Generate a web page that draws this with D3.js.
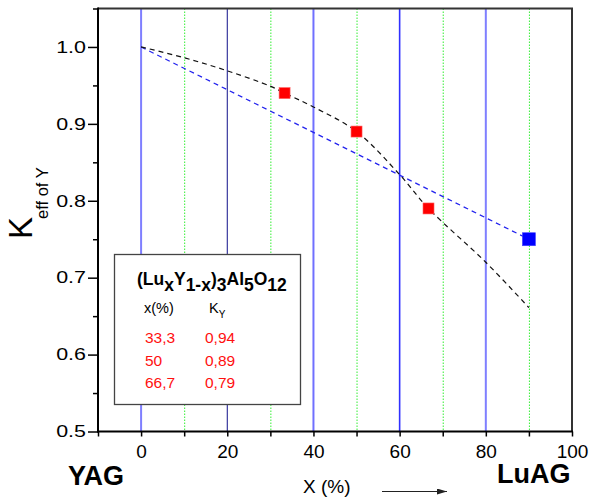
<!DOCTYPE html>
<html>
<head>
<meta charset="utf-8">
<script src="https://cdn.jsdelivr.net/npm/d3@7/dist/d3.min.js"></script>
<style>
  html, body { margin: 0; padding: 0; background: #fff; }
  svg { display: block; font-family: "Liberation Sans", Arial, sans-serif; }
</style>
</head>
<body>
<svg id="chart" width="592" height="502"></svg>
<script>
// Measured compositions (x, %) and effective segregation coefficient of Y
const sampleX = [33.3, 50, 66.7];
const sampleK = [0.94, 0.89, 0.79];
const sampleXLabel = ["33,3", "50", "66,7"];
const sampleKLabel = ["0,94", "0,89", "0,79"];

// LuAG end-member point
const luagX = [90];
const luagK = [0.75];

// Guide curve through the measured points (black dashed)
const fitX = [0, 10, 20, 30, 33.3, 40, 50, 60, 66.7, 80, 90];
const fitK = [1.0, 0.986, 0.969, 0.949, 0.94, 0.922, 0.89, 0.834, 0.79, 0.72, 0.661];

// Straight reference line (blue dashed)
const lineX = [0, 90];
const lineK = [1.0, 0.75];

// Vertical grid lines
const solidGridX = [0, 20, 40, 60, 80];
const solidGridColor = ["#7f7fff", "#10108a", "#7070ff", "#3030ff", "#7f7fff"];
const solidGridWidth = [2, 1, 2, 1.6, 2];
const dottedGridX = [10, 30, 50, 70, 90];

// Axis ticks
const xTicks = [0, 20, 40, 60, 80, 100];
const xMinorTicks = [-10, 0, 10, 20, 30, 40, 50, 60, 70, 80, 90, 100];
const yTicks = [0.5, 0.6, 0.7, 0.8, 0.9, 1.0];
const yMinorTicks = [0.55, 0.65, 0.75, 0.85, 0.95, 1.05];

const svg = d3.select("#chart");
const plot = { left: 98, right: 572, top: 8.5, bottom: 431.5 };

const x = d3.scaleLinear().domain([-10, 100]).range([plot.left, plot.right]);
const y = d3.scaleLinear().domain([0.5, 1.05]).range([plot.bottom, plot.top]);

// grid lines
svg.append("g").selectAll("line").data(dottedGridX).join("line")
  .attr("x1", d => x(d) + 0.5).attr("x2", d => x(d) + 0.5)
  .attr("y1", plot.top).attr("y2", plot.bottom)
  .attr("stroke", "#33ee33").attr("stroke-width", 1)
  .attr("stroke-dasharray", "1.5,1.5");

svg.append("g").selectAll("line").data(solidGridX).join("line")
  .attr("x1", d => x(d)).attr("x2", d => x(d))
  .attr("y1", plot.top).attr("y2", plot.bottom)
  .attr("stroke", (d, i) => solidGridColor[i])
  .attr("stroke-width", (d, i) => solidGridWidth[i]);

// dashed curves
const lineGen = d3.line().x(d => x(d[0])).y(d => y(d[1]));
svg.append("path")
  .datum(lineX.map((v, i) => [v, lineK[i]]))
  .attr("d", lineGen)
  .attr("fill", "none").attr("stroke", "#2222ee").attr("stroke-width", 1.2)
  .attr("stroke-dasharray", "5,4");

svg.append("path")
  .datum(fitX.map((v, i) => [v, fitK[i]]))
  .attr("d", lineGen.curve(d3.curveCatmullRom))
  .attr("fill", "none").attr("stroke", "#111").attr("stroke-width", 1.2)
  .attr("stroke-dasharray", "5,4");

// markers
const rs = 11;
svg.append("g").selectAll("rect").data(sampleX).join("rect")
  .attr("x", d => x(d) - rs / 2)
  .attr("y", (d, i) => y(sampleK[i]) - rs / 2)
  .attr("width", rs).attr("height", rs)
  .attr("fill", "#ff0000").attr("stroke", "#ff6060").attr("stroke-width", 0.6);

const bs = 13;
svg.append("g").selectAll("rect").data(luagX).join("rect")
  .attr("x", d => x(d) - bs / 2)
  .attr("y", (d, i) => y(luagK[i]) - bs / 2)
  .attr("width", bs).attr("height", bs)
  .attr("fill", "#0000ff").attr("stroke", "#4040ff").attr("stroke-width", 0.6);

// frame (top and right)
svg.append("path")
  .attr("d", `M${plot.left},${plot.top}H${plot.right}V${plot.bottom}`)
  .attr("fill", "none").attr("stroke", "#333").attr("stroke-width", 2);

// x axis
const xAxisG = svg.append("g").attr("transform", `translate(0,${plot.bottom})`);
xAxisG.append("g")
  .call(d3.axisBottom(x).tickValues(xMinorTicks).tickSize(5).tickFormat(""))
  .call(g => g.select(".domain").remove())
  .call(g => g.selectAll("line").attr("stroke", "#000").attr("stroke-width", 1.5));
xAxisG.append("g")
  .call(d3.axisBottom(x).tickValues(xTicks).tickSize(0).tickPadding(13).tickFormat(d3.format("d")))
  .call(g => g.select(".domain").remove())
  .call(g => g.selectAll("text").attr("font-size", 19).attr("fill", "#000")
    .attr("font-family", "Liberation Sans, Arial, sans-serif"));
xAxisG.append("line")
  .attr("x1", plot.left - 1).attr("x2", plot.right + 1)
  .attr("stroke", "#000").attr("stroke-width", 2);

// y axis
const yAxisG = svg.append("g").attr("transform", `translate(${plot.left},0)`);
yAxisG.append("g")
  .call(d3.axisLeft(y).tickValues(yMinorTicks).tickSize(5).tickFormat(""))
  .call(g => g.select(".domain").remove())
  .call(g => g.selectAll("line").attr("stroke", "#000").attr("stroke-width", 1.5));
const yStretch = 1.3;
yAxisG.append("g")
  .call(d3.axisLeft(y).tickValues(yTicks).tickSize(10).tickPadding(2).tickFormat(d3.format(".1f")))
  .call(g => g.select(".domain").remove())
  .call(g => g.selectAll("line").attr("stroke", "#000").attr("stroke-width", 1.5))
  .call(g => g.selectAll("text").attr("font-size", 16.5).attr("fill", "#000")
    .attr("font-family", "Liberation Sans, Arial, sans-serif")
    .attr("x", -12 / yStretch)
    .attr("transform", `scale(${yStretch},1)`));
yAxisG.append("line")
  .attr("y1", plot.top - 1).attr("y2", plot.bottom + 1)
  .attr("stroke", "#000").attr("stroke-width", 2);

// y axis title: K_eff of Y
const yt = svg.append("text")
  .attr("transform", "translate(32,239) rotate(-90)")
  .attr("fill", "#000");
yt.append("tspan").attr("font-size", 33).text("K");
yt.append("tspan").attr("font-size", 16.5).attr("dx", -2).attr("dy", 16).text("eff of Y");

// x axis title and arrow
svg.append("text").attr("x", 303).attr("y", 493).attr("font-size", 19).text("X (%)");
svg.append("defs").append("marker")
  .attr("id", "arrowhead").attr("viewBox", "0 0 10 6")
  .attr("refX", 10).attr("refY", 3)
  .attr("markerWidth", 10).attr("markerHeight", 6)
  .attr("markerUnits", "userSpaceOnUse").attr("orient", "auto")
  .append("path").attr("d", "M0,0L10,3L0,6Z").attr("fill", "#222");
svg.append("line")
  .attr("x1", 382).attr("x2", 447).attr("y1", 491.5).attr("y2", 491.5)
  .attr("stroke", "#222").attr("stroke-width", 1.2)
  .attr("marker-end", "url(#arrowhead)");

svg.append("text").attr("x", 68).attr("y", 485)
  .attr("font-size", 27).attr("font-weight", "bold").text("YAG");
svg.append("text").attr("x", 497).attr("y", 483)
  .attr("font-size", 27).attr("font-weight", "bold").text("LuAG");

// legend box
const lg = svg.append("g");
lg.append("rect")
  .attr("x", 114.5).attr("y", 254.5).attr("width", 186).attr("height", 150)
  .attr("fill", "#fff").attr("stroke", "#444").attr("stroke-width", 1.3);

const title = lg.append("text").attr("x", 137).attr("y", 285)
  .attr("font-size", 17.5).attr("font-weight", "bold").attr("fill", "#000");
const parts = [
  ["(Lu", 0], ["x", 1], ["Y", 0], ["1-x", 1], [")", 0], ["3", 1],
  ["Al", 0], ["5", 1], ["O", 0], ["12", 1]
];
let level = 0;
parts.forEach(([t, sub]) => {
  const dy = (sub - level) * 6;
  level = sub;
  title.append("tspan").attr("dy", dy).text(t);
});

lg.append("text").attr("x", 144).attr("y", 313).attr("font-size", 14.5).text("x(%)");
const kh = lg.append("text").attr("x", 209).attr("y", 313).attr("font-size", 14.5);
kh.append("tspan").text("K");
kh.append("tspan").attr("font-size", 10).attr("dy", 5).text("Y");

lg.append("g").selectAll("text").data(sampleXLabel).join("text")
  .attr("x", 145).attr("y", (d, i) => 343 + i * 22.7)
  .attr("font-size", 15.5).attr("fill", "#ff1010").text(d => d);
lg.append("g").selectAll("text").data(sampleKLabel).join("text")
  .attr("x", 205).attr("y", (d, i) => 343 + i * 22.7)
  .attr("font-size", 15.5).attr("fill", "#ff1010").text(d => d);
</script>
</body>
</html>
